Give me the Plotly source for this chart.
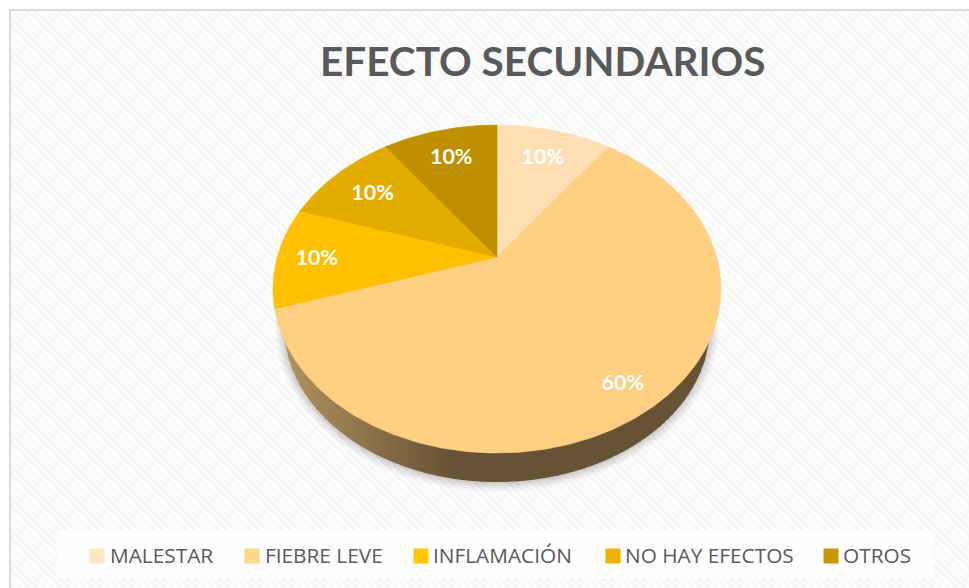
import base64
import numpy as np
import plotly.graph_objects as go

categories = ["MALESTAR", "FIEBRE LEVE", "INFLAMACIÓN", "NO HAY EFECTOS", "OTROS"]
values = [10, 60, 10, 10, 10]
title_text = "EFECTO SECUNDARIOS"

face_colors = ["#FEDFB3", "#FFCF82", "#FFC000", "#E2AC00", "#BF8F00"]
legend_colors = ["#FFE7C0", "#FFD788", "#FFC800", "#EBB300", "#C89600"]

# ---- page-pixel layout (styles and geometry, not data) ----
W, H = 969, 588
CX, CY, RX, RY = 497.0, 289.0, 224.0, 164.0
APEX_DY = 32.0
LOW_CY, LOW_RX, LOW_RY = 326.0, 213.0, 156.0
LABEL_R = [0.80, 0.82, 0.82, 0.78, 0.80]
LABEL_DY = 3.0
LEG_SWATCH_X = [97, 252, 421, 613, 831]
LEG_TEXT_X = [110, 265, 433, 625, 843]
LEG_Y = 556

K = APEX_DY / RY


def project(theta):
    """Tilted pie: angle clockwise from the top -> page pixels."""
    u, v = np.sin(theta), np.cos(theta)
    d = 1 + K * v
    x = CX + RX * np.sqrt(1 - K * K) * u / d
    y = CY - RY * (v + K) / d
    return x, y


fig = go.Figure()

# ---- soft shadow under the pie ----
t = np.linspace(0, 2 * np.pi, 181)
for grow, a in [(9, 0.03), (7, 0.04), (5, 0.05), (3, 0.06), (1, 0.08)]:
    fig.add_trace(go.Scatter(
        x=CX + (LOW_RX + grow) * np.cos(t), y=LOW_CY + 1 + (LOW_RY + grow) * np.sin(t),
        mode="lines", line=dict(width=0), fill="toself",
        fillcolor=f"rgba(60,60,60,{a})", hoverinfo="skip", showlegend=False))

# ---- side wall, shaded in vertical strips ----
edges = np.arange(CX - LOW_RX, CX + LOW_RX + 0.1, 4.0)
for x0, x1 in zip(edges[:-1], edges[1:]):
    xs = np.linspace(x0, x1 + 0.6, 4)
    top = CY + RY * np.sqrt(np.clip(1 - ((xs - CX) / RX) ** 2, 0, 1))
    bot = LOW_CY + LOW_RY * np.sqrt(np.clip(1 - ((xs - CX) / LOW_RX) ** 2, 0, 1))
    bot = np.maximum(top - 6, bot)
    f = min(max((x0 - 280) / 170.0, 0), 1)
    r, g, b = (int(round(p + (q - p) * f)) for p, q in zip((178, 148, 96), (102, 82, 52)))
    fig.add_trace(go.Scatter(
        x=np.r_[xs, xs[::-1]], y=np.r_[top - 6, bot[::-1]],
        mode="lines", line=dict(width=0), fill="toself",
        fillcolor=f"rgb({r},{g},{b})", hoverinfo="skip", showlegend=False))

# ---- top face ----
total = sum(values)
start = 0.0
for name, val, col in zip(categories, values, face_colors):
    sweep = 2 * np.pi * val / total
    th = np.linspace(start, start + sweep, max(int(val * 4), 24))
    ex, ey = project(th)
    ax, ay = CX, CY - RY * K
    fig.add_trace(go.Scatter(
        x=np.r_[ax, ex, ax], y=np.r_[ay, ey, ay], mode="lines",
        line=dict(width=0.6, color=col), fill="toself", fillcolor=col,
        name=name, hoverinfo="name", showlegend=False))
    start += sweep

# ---- percent labels ----
start = 0.0
lx, ly, ltext = [], [], []
for val, lr in zip(values, LABEL_R):
    sweep = 2 * np.pi * val / total
    mid = start + sweep / 2
    ex, ey = project(np.array([mid]))
    ax, ay = CX, CY - RY * K
    lx.append(ax + (ex[0] - ax) * lr)
    ly.append(ay + (ey[0] - ay) * lr + LABEL_DY)
    ltext.append(f"{round(100 * val / total)}%")
    start += sweep
fig.add_trace(go.Scatter(
    x=lx, y=ly, text=ltext, mode="text", textposition="middle center",
    textfont=dict(family="Lato", size=21.5, color="#FFFFFF", weight="bold"),
    hoverinfo="skip", showlegend=False))

# ---- legend ----
for name, col, sx, tx in zip(categories, legend_colors, LEG_SWATCH_X, LEG_TEXT_X):
    fig.add_trace(go.Scatter(
        x=[sx], y=[LEG_Y], mode="markers",
        marker=dict(symbol="square", size=15, color=col, line=dict(width=0)),
        hoverinfo="skip", showlegend=False))
    fig.add_annotation(x=tx, y=LEG_Y - 1.5, text=name, showarrow=False, xanchor="left",
                       yanchor="middle", xshift=-2,
                       font=dict(family="Open Sans", size=20.8, color="#595959"))

# ---- textured chart background ----
cell = 16
svg = f"""<svg xmlns='http://www.w3.org/2000/svg' width='{W}' height='{H}'>
<defs>
<pattern id='a' x='7' y='2' width='{2*cell}' height='{2*cell}' patternUnits='userSpaceOnUse'>
<rect width='{2*cell}' height='{2*cell}' fill='#F6F6F6'/>
<rect x='0' y='0' width='{cell}' height='{cell}' fill='#F9F9F9'/>
<rect x='{cell}' y='{cell}' width='{cell}' height='{cell}' fill='#F9F9F9'/>
<path d='M-8 -8L40 40M-8 0L32 40M0 -8L40 32M-8 8L24 40M8 -8L40 24M-8 16L16 40M16 -8L40 16M-8 24L8 40M24 -8L40 8M-8 -16L40 32M-16 -8L32 40'
 stroke='#FFFFFF' stroke-width='2.4' fill='none' opacity='0.8'/>
</pattern>
</defs>
<rect width='{W}' height='{H}' fill='#FFFFFF'/>
<rect x='11' y='11' width='{W-11}' height='{H-11}' fill='url(#a)'/>
<rect x='10' y='10' width='{W-10+4}' height='{H-10+4}' fill='none' stroke='#D9D9D9' stroke-width='2'/>
<rect x='57' y='531' width='876' height='47' fill='#FFFFFF' fill-opacity='0.75'/>
</svg>"""
uri = "data:image/svg+xml;base64," + base64.b64encode(svg.encode()).decode()

fig.update_layout(
    width=W, height=H, autosize=False,
    margin=dict(l=0, r=0, t=0, b=0),
    paper_bgcolor="#FFFFFF", plot_bgcolor="rgba(0,0,0,0)",
    xaxis=dict(range=[0, W], visible=False, fixedrange=True),
    yaxis=dict(range=[H, 0], visible=False, fixedrange=True),
    images=[dict(source=uri, xref="paper", yref="paper", x=0, y=1, sizex=1, sizey=1,
                 xanchor="left", yanchor="top", sizing="stretch", layer="below")],
    annotations=list(fig.layout.annotations) + [dict(
        x=543, y=60, text=f"<b>{title_text}</b>", showarrow=False,
        xanchor="center", yanchor="middle",
        font=dict(family="Lato", size=40.5, color="#595959"))],
    showlegend=False,
)
fig.write_html("out.html", config=dict(displayModeBar=False),
               post_script="document.body.style.margin='0';document.body.style.overflow='hidden';")
